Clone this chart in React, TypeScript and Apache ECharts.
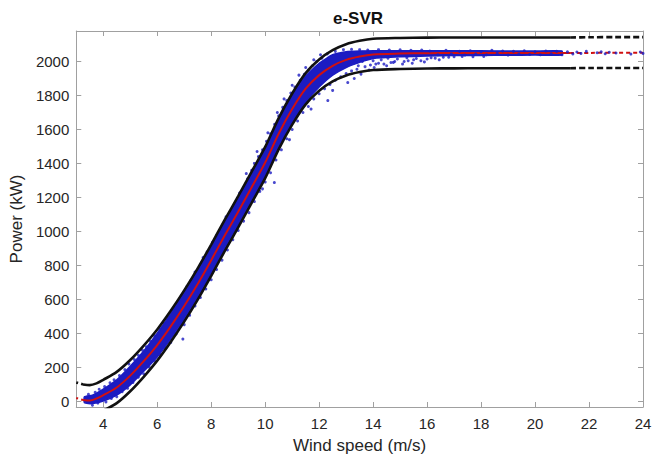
import React, { useEffect, useRef } from "react";
import * as echarts from "echarts";

// Axis ticks
const xTicks = [4, 6, 8, 10, 12, 14, 16, 18, 20, 22, 24];
const yTicks = [0, 200, 400, 600, 800, 1000, 1200, 1400, 1600, 1800, 2000];

// Fitted e-SVR curve and its bounds (wind speed m/s -> power kW)
const fitX = [3.0, 3.25, 3.5, 3.75, 4.0, 4.5, 5.0, 5.5, 6.0, 6.5, 7.0, 7.5, 8.0, 8.5, 9.0, 9.5, 10.0, 10.5, 11.0, 11.5, 12.0, 12.5, 13.0, 13.5, 14.0, 15, 16, 17, 18, 19, 20, 21, 21.3, 22, 23, 24];
const fitP = [18, 6, 3, 15, 35, 80, 150, 235, 330, 440, 560, 690, 830, 975, 1115, 1260, 1405, 1575, 1720, 1840, 1920, 1975, 2010, 2030, 2042, 2047, 2049, 2050, 2050, 2050, 2050, 2050, 2050, 2051, 2052, 2052];
const upperP = [110, 98, 94, 104, 125, 172, 242, 327, 422, 532, 652, 782, 922, 1067, 1207, 1352, 1497, 1667, 1812, 1932, 2012, 2067, 2102, 2122, 2134, 2139, 2141, 2142, 2142, 2142, 2142, 2142, 2142, 2143, 2144, 2144];
const lowerP = [-74, -86, -89, -78, -57, -12, 58, 143, 238, 348, 468, 598, 738, 883, 1023, 1168, 1313, 1483, 1628, 1748, 1828, 1883, 1918, 1938, 1950, 1956, 1959, 1960, 1961, 1961, 1961, 1961, 1961, 1962, 1962, 1962];

// Dense core of the measured data (blue cloud)
const bandX = [3.3, 3.6, 4.0, 4.5, 5.0, 5.5, 6.0, 6.5, 7.0, 7.5, 8.0, 8.5, 9.0, 9.5, 10.0, 10.5, 11.0, 11.5, 12.0, 12.5, 13.0, 13.5, 14.0, 15.0, 16.0, 17.0, 18.0, 19.0, 20.0, 21.0];
const bandLo = [-10, -15, 0, 35, 95, 175, 260, 365, 480, 610, 750, 895, 1035, 1180, 1320, 1490, 1640, 1760, 1850, 1920, 1965, 1995, 2018, 2028, 2032, 2035, 2036, 2037, 2038, 2039];
const bandHi = [25, 35, 70, 125, 205, 295, 400, 515, 640, 770, 910, 1055, 1195, 1340, 1490, 1660, 1800, 1915, 1990, 2040, 2058, 2062, 2063, 2064, 2064, 2063, 2063, 2062, 2062, 2062];

// Scattered measured points around the cloud
const pointsAbove = [
  [3.45, 40], [3.7, 52], [3.85, 70], [4.05, 85], [4.25, 108], [4.4, 125], [4.6, 150], [4.8, 185], [4.95, 218], [5.15, 245],
  [5.3, 270], [5.45, 300], [5.6, 320], [5.75, 352], [5.9, 385], [6.1, 425], [6.25, 455], [6.4, 490], [6.6, 545], [6.75, 580],
  [6.9, 620], [7.1, 675], [7.25, 712], [7.4, 760], [7.6, 805], [7.7, 845], [7.85, 880], [8.05, 935], [8.2, 975], [8.35, 1010],
  [8.55, 1085], [8.7, 1110], [8.85, 1150], [9.05, 1225], [9.2, 1255], [9.35, 1310], [9.5, 1360], [9.6, 1400], [9.75, 1440], [9.9, 1480],
  [10.05, 1530], [10.2, 1575], [10.35, 1630], [10.5, 1680], [10.65, 1730], [10.8, 1770], [10.95, 1815], [11.1, 1850], [11.3, 1890], [11.45, 1925],
  [11.6, 1950], [11.75, 1975], [11.9, 2000], [12.1, 2020], [12.3, 2045], [12.6, 2060], [12.9, 2070], [13.2, 2072], [13.5, 2070], [13.8, 2068],
  [14.2, 2070], [14.6, 2068], [15.0, 2069], [15.4, 2067], [15.8, 2068],
  [9.3, 1340], [9.7, 1470], [10.1, 1580], [10.45, 1700], [10.7, 1780], [11.0, 1860], [11.25, 1920], [11.5, 1965], [11.8, 2010], [12.05, 2040]
];
const pointsBelow = [
  [3.6, -25], [3.8, -12], [4.1, -5], [4.3, 15], [4.5, 25], [4.7, 55], [4.9, 75], [5.1, 110], [5.3, 140], [5.5, 160],
  [5.7, 200], [5.9, 235], [6.1, 275], [6.3, 310], [6.5, 345], [6.7, 395], [6.95, 365], [7.0, 450], [7.2, 505], [7.4, 560],
  [7.6, 610], [7.8, 660], [8.0, 715], [8.2, 775], [8.4, 830], [8.6, 890], [8.8, 950], [9.0, 1005], [9.2, 1060], [9.4, 1110],
  [9.6, 1175], [9.8, 1235], [10.0, 1290], [10.2, 1345], [10.34, 1287], [10.4, 1420], [10.6, 1480], [10.8, 1545], [11.0, 1600], [11.2, 1650],
  [11.4, 1700], [11.6, 1735], [11.8, 1780], [12.0, 1810], [12.2, 1840], [12.32, 1770], [12.4, 1865], [12.6, 1890], [12.8, 1910], [13.06, 1876],
  [13.0, 1930], [13.2, 1945], [13.4, 1955], [13.55, 1926], [13.7, 1970], [13.9, 1980], [14.04, 1965], [14.2, 1990], [14.4, 1985], [14.66, 1994],
  [14.8, 2000], [15.09, 1985], [15.3, 2005], [15.5, 2010], [15.77, 2005], [16.0, 2015], [16.3, 2020], [16.6, 2025], [17.0, 2028],
  [9.9, 1250], [10.9, 1540], [11.7, 1720], [12.5, 1830], [13.3, 1900],
  [12.7, 1985], [12.9, 2000], [13.1, 1990], [13.3, 2010], [13.45, 1975], [13.6, 2000], [13.75, 2015], [13.85, 1950], [14.0, 2005], [14.1, 1985],
  [14.3, 2010], [14.5, 1975], [14.55, 2020], [14.75, 1995], [14.9, 2015], [15.15, 2000], [15.25, 2022], [15.45, 1990], [15.6, 2018], [15.9, 1998],
  [16.15, 2022], [16.45, 2010], [16.8, 2025], [17.3, 2030], [17.7, 2028], [18.1, 2030]
];
const pointsPlateau = [
  [16.1, 2062], [16.4, 2040], [16.7, 2066], [16.9, 2045], [17.2, 2060], [17.4, 2038], [17.6, 2064], [17.8, 2044], [18.0, 2058], [18.2, 2040],
  [18.4, 2066], [18.6, 2048], [18.8, 2062], [19.0, 2038], [19.2, 2060], [19.4, 2045], [19.6, 2064], [19.8, 2042], [20.0, 2058], [20.2, 2040],
  [20.4, 2062], [20.6, 2046], [20.8, 2060], [21.0, 2040], [21.2, 2057], [21.4, 2045], [21.55, 2056], [21.7, 2048], [21.9, 2060], [22.3, 2052],
  [22.45, 2058], [22.6, 2046], [22.75, 2055], [23.0, 2050], [23.55, 2044], [23.9, 2056], [24.0, 2048]
];

const BLUE = "#1c1cc2";
const RED = "#d01010";
const BLACK = "#111111";
const AXIS = "#a0a0a0";
const FONT = "Liberation Sans, Arial, sans-serif";

function pairs(xs: number[], ys: number[], from: number, to: number) {
  const out: number[][] = [];
  for (let i = from; i <= to; i++) out.push([xs[i], ys[i]]);
  return out;
}

export default function App() {
  const ref = useRef<HTMLDivElement>(null);
  useEffect(() => {
    if (!ref.current) return;
    const chart = echarts.init(ref.current, undefined, { renderer: "svg" });
    const n = fitX.length - 1;
    const tailStart = fitX.indexOf(21.3);

    const curve = (name: string, ys: number[], color: string, width: number, from: number, to: number, type: any, z: number) => ({
      name,
      type: "line",
      data: pairs(fitX, ys, from, to),
      showSymbol: false,
      symbol: "none",
      smooth: 0.3,
      lineStyle: { color, width, type },
      z,
      silent: true,
    });

    const option: any = {
      animation: false,
      title: {
        text: "e-SVR",
        left: 358,
        top: 10,
        padding: 0,
        textAlign: "center",
        textStyle: { fontSize: 17, fontWeight: "bold", color: "#111", fontFamily: FONT },
      },
      grid: { left: 74, right: 20, top: 31, bottom: 46, containLabel: false },
      xAxis: [
        {
          type: "value",
          min: 3,
          max: 24,
          position: "bottom",
          axisLine: { show: true, onZero: false, lineStyle: { color: AXIS, width: 1 } },
          axisTick: { show: true, inside: true, length: 5, customValues: xTicks, lineStyle: { color: AXIS } },
          axisLabel: { customValues: xTicks, color: "#262626", fontSize: 15, fontFamily: FONT, margin: 9, formatter: (v: number) => String(v) },
          splitLine: { show: false },
          name: "Wind speed (m/s)",
          nameLocation: "middle",
          nameGap: 30,
          nameTextStyle: { fontSize: 17, color: "#262626", fontFamily: FONT },
        },
        {
          type: "value",
          min: 3,
          max: 24,
          position: "top",
          axisLine: { show: true, onZero: false, lineStyle: { color: AXIS, width: 1 } },
          axisTick: { show: true, inside: true, length: 5, customValues: xTicks, lineStyle: { color: AXIS } },
          axisLabel: { show: false },
          splitLine: { show: false },
        },
      ],
      yAxis: [
        {
          type: "value",
          min: -35,
          max: 2180,
          position: "left",
          axisLine: { show: true, onZero: false, lineStyle: { color: AXIS, width: 1 } },
          axisTick: { show: true, inside: true, length: 5, customValues: yTicks, lineStyle: { color: AXIS } },
          axisLabel: { customValues: yTicks, color: "#262626", fontSize: 15, fontFamily: FONT, margin: 7, formatter: (v: number) => String(v) },
          splitLine: { show: false },
          name: "Power (kW)",
          nameLocation: "middle",
          nameGap: 41,
          nameTextStyle: { fontSize: 17, color: "#262626", fontFamily: FONT },
        },
        {
          type: "value",
          min: -35,
          max: 2180,
          position: "right",
          axisLine: { show: true, onZero: false, lineStyle: { color: AXIS, width: 1 } },
          axisTick: { show: true, inside: true, length: 5, customValues: yTicks, lineStyle: { color: AXIS } },
          axisLabel: { show: false },
          splitLine: { show: false },
        },
      ],
      series: [
        {
          name: "band",
          type: "custom",
          clip: true,
          silent: true,
          z: 1,
          data: [[bandX[0], bandLo[0]]],
          encode: { x: 0, y: 1 },
          renderItem: (params: any, api: any) => {
            const pts: number[][] = [];
            for (let i = 0; i < bandX.length; i++) pts.push(api.coord([bandX[i], bandLo[i]]));
            for (let i = bandX.length - 1; i >= 0; i--) pts.push(api.coord([bandX[i], bandHi[i]]));
            return {
              type: "polygon",
              shape: { points: pts, smooth: 0.15 },
              style: { fill: BLUE, stroke: BLUE, lineWidth: 1.5 },
            };
          },
        },
        {
          name: "points",
          type: "scatter",
          data: [...pointsAbove, ...pointsBelow],
          symbol: "circle",
          symbolSize: 3,
          itemStyle: { color: BLUE },
          z: 2,
          silent: true,
        },
        curve("upperHead", upperP, BLACK, 2.6, 0, 1, [2, 3], 3),
        curve("upper", upperP, BLACK, 2.6, 1, tailStart, "solid", 3),
        curve("upperTail", upperP, BLACK, 2.6, tailStart, n, [6, 3], 3),
        curve("lowerHead", lowerP, BLACK, 2.6, 0, 1, [2, 3], 3),
        curve("lower", lowerP, BLACK, 2.6, 1, tailStart, "solid", 3),
        curve("lowerTail", lowerP, BLACK, 2.6, tailStart, n, [6, 3], 3),
        curve("fitHead", fitP, RED, 2, 0, 1, [2, 3], 4),
        curve("fit", fitP, RED, 2, 1, tailStart, "solid", 4),
        curve("fitTail", fitP, RED, 2, tailStart, n, [4, 3], 4),
        {
          name: "plateauPoints",
          type: "scatter",
          data: pointsPlateau,
          symbol: "circle",
          symbolSize: 3,
          itemStyle: { color: BLUE },
          z: 5,
          silent: true,
        },
      ],
    };
    chart.setOption(option);
    return () => chart.dispose();
  }, []);

  return (
    <div
      ref={ref}
      style={{ position: "fixed", left: 0, top: 0, width: 663, height: 459, background: "#fff" }}
    />
  );
}
